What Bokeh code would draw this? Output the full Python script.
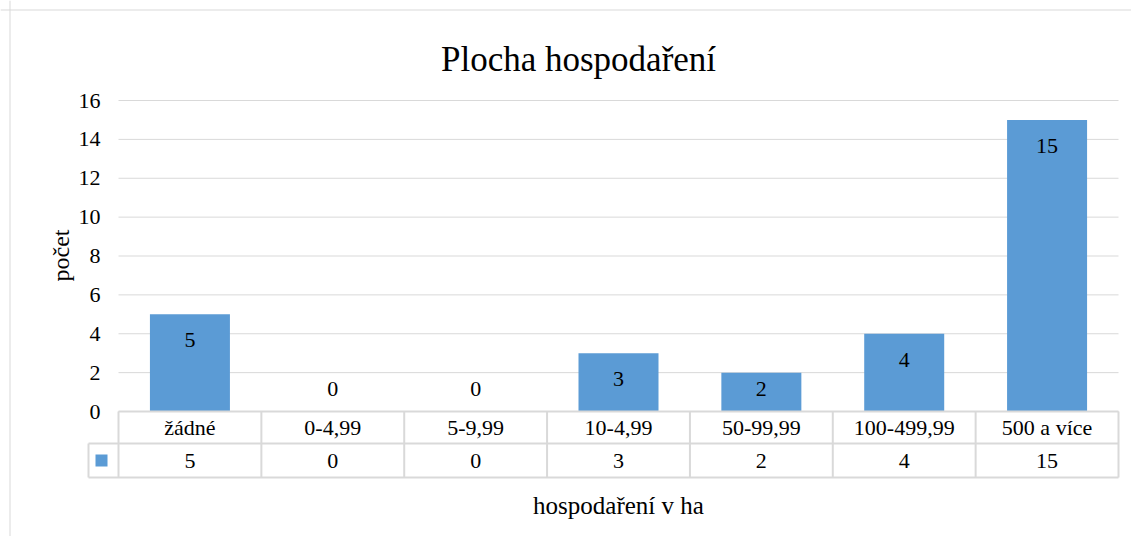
import math
from bokeh.plotting import figure
from bokeh.models import Range1d, LinearAxis, FixedTicker, Span
from bokeh.core.properties import value
from bokeh.embed import file_html
from bokeh.resources import INLINE

# ---- data ----
categories = ["žádné", "0-4,99", "5-9,99", "10-4,99", "50-99,99", "100-499,99", "500 a více"]
counts = [5, 0, 0, 3, 2, 4, 15]
y_ticks = [0, 2, 4, 6, 8, 10, 12, 14, 16]
title_text = "Plocha hospodaření"
x_title = "hospodaření v ha"
y_title = "počet"

# ---- layout (canvas pixels) ----
W, H = 1131, 536
n = len(categories)
PLOT_L = 118            # canvas x of the plot area's left edge
PLOT_W = 1000           # plot area width
Y0 = 411                # canvas y of value 0
PLOT_TOP = 100          # canvas y of top tick
cat_px = PLOT_W / n
unit_y = (Y0 - PLOT_TOP) / (y_ticks[-1] - y_ticks[0])

def dx(cx):
    return (cx - PLOT_L) / cat_px

def dy(cy):
    return (Y0 - cy) / unit_y

def hpx(px):
    return px / unit_y

FONT = value("Liberation Serif")
GRID = "#d9d9d9"
BAR = "#5b9bd5"

p = figure(width=W, height=H,
           x_range=Range1d(dx(0), dx(W)), y_range=Range1d(dy(H), dy(0)),
           output_backend="svg", toolbar_location=None,
           x_axis_type=None, y_axis_type=None, min_border=0)
p.outline_line_color = None
p.background_fill_color = "white"
p.border_fill_color = "white"

# chart border (left and top)
p.add_layout(Span(location=dx(9.5), dimension="height", line_color=GRID, line_width=1))
p.add_layout(Span(location=dy(9.5), dimension="width", line_color=GRID, line_width=1))

# gridlines
p.segment(x0=[0] * len(y_ticks), x1=[n] * len(y_ticks), y0=y_ticks, y1=y_ticks,
          line_color=GRID, line_width=1)

# bars
xs = [i + 0.5 for i in range(n)]
p.vbar(x=xs, top=counts, bottom=0, width=0.56, fill_color=BAR, line_color=None)

# data labels (inside end)
lbl_y = [max(v - hpx(26), hpx(23)) for v in counts]
p.text(x=xs, y=lbl_y, text=[str(v) for v in counts], text_font=FONT,
       text_font_size="22px", text_align="center", text_baseline="middle",
       text_color="black")

# y axis
yaxis = LinearAxis(fixed_location=0, ticker=FixedTicker(ticks=y_ticks),
                   axis_line_color=None, major_tick_line_color=None,
                   minor_tick_line_color=None, major_tick_out=0, major_tick_in=0,
                   major_label_standoff=18,
                   major_label_text_font="Liberation Serif",
                   major_label_text_font_size="22px",
                   major_label_text_color="black")
p.add_layout(yaxis, "left")

# data table
row1_bot = dy(443)
row2_bot = dy(477)
leg_left = dx(88)
p.segment(x0=[0, leg_left, leg_left], x1=[n, n, n],
          y0=[0, row1_bot, row2_bot], y1=[0, row1_bot, row2_bot],
          line_color=GRID, line_width=2)
vx = [leg_left] + list(range(0, n + 1))
vy0 = [row1_bot] + [0] * (n + 1)
p.segment(x0=vx, x1=vx, y0=vy0, y1=[row2_bot] * len(vx), line_color=GRID, line_width=2)

p.text(x=xs, y=[row1_bot / 2] * n, text=categories, text_font=FONT,
       text_font_size="22px", text_align="center", text_baseline="middle",
       text_color="black")
p.text(x=xs, y=[(row1_bot + row2_bot) / 2] * n, text=[str(v) for v in counts],
       text_font=FONT, text_font_size="22px", text_align="center",
       text_baseline="middle", text_color="black")
p.scatter(x=[dx(101)], y=[(row1_bot + row2_bot) / 2], marker="square", size=12,
          fill_color=BAR, line_color=None)

# titles
p.text(x=[dx(578)], y=[dy(59)], text=[title_text], text_font=FONT,
       text_font_size="35px", text_align="center", text_baseline="alphabetic",
       text_color="black")
p.text(x=[n / 2], y=[dy(505)], text=[x_title], text_font=FONT,
       text_font_size="25px", text_align="center", text_baseline="alphabetic",
       text_color="black")
p.text(x=[dx(60)], y=[dy(255)], text=[y_title], text_font=FONT,
       text_font_size="24px", text_align="center", text_baseline="middle",
       angle=math.pi / 2, text_color="black")

open("out.html", "w").write(file_html(p, INLINE))
